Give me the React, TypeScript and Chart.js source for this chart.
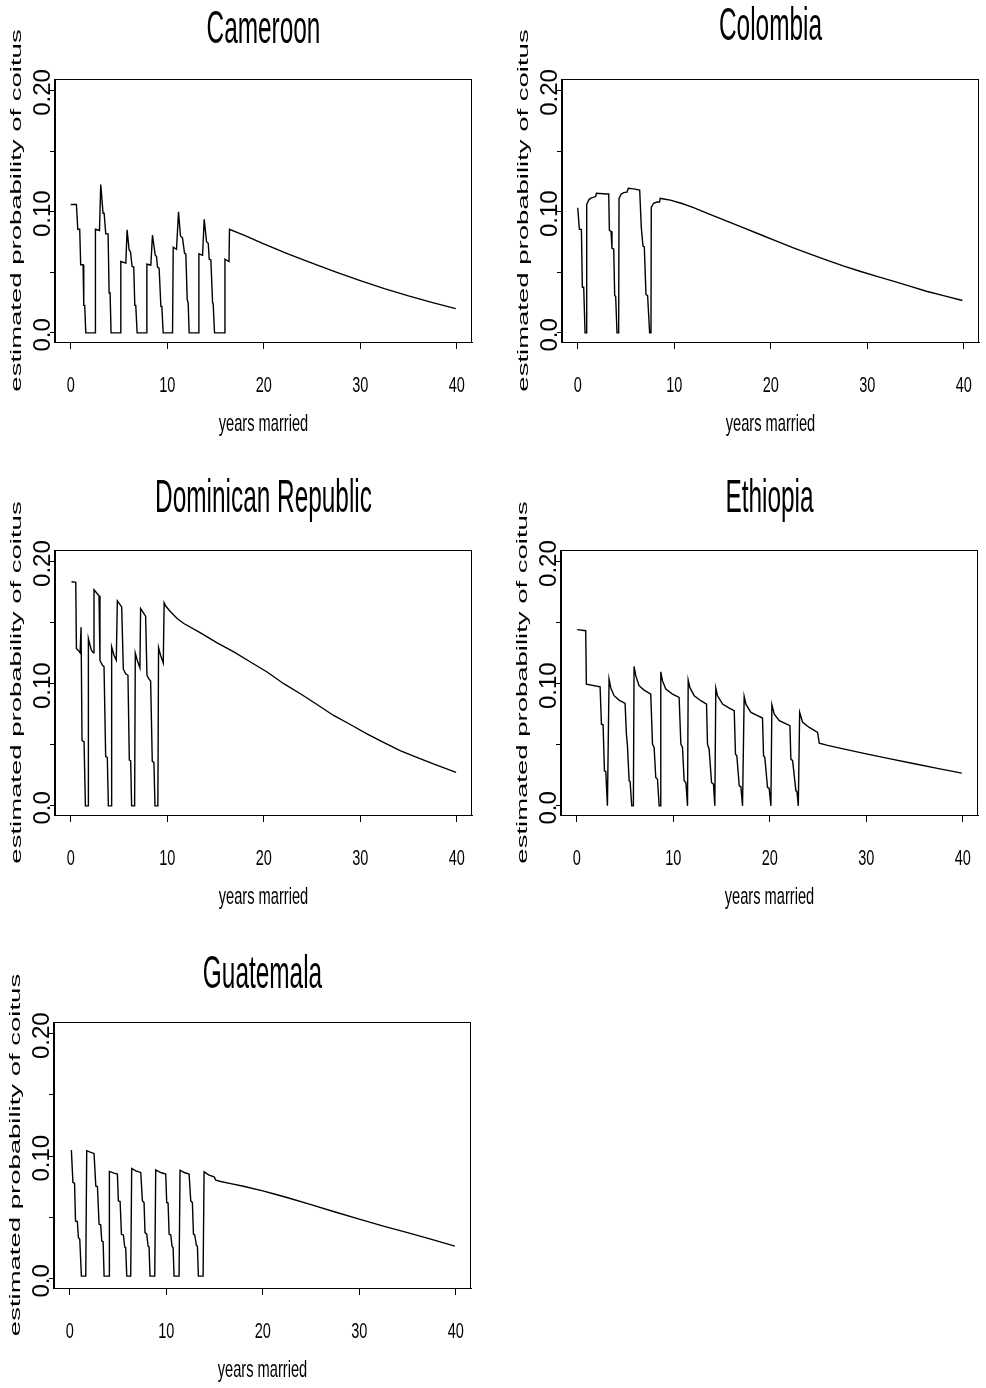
import React, { useEffect, useRef } from "react";
import { Chart, registerables } from "chart.js";

Chart.register(...registerables);

// ---------- axis definitions ----------
const xTickValues = [0, 10, 20, 30, 40];
const xTickLabels = ["0", "10", "20", "30", "40"];
const yTickValues = [0, 0.05, 0.1, 0.15, 0.2];
const yTickLabels = ["0.0", "", "0.10", "", "0.20"];
const xAxisTitle = "years married";
const yAxisTitle = "estimated probability of coitus";

// ---------- Cameroon ----------
const cameroonYears = [
  0, 0.59, 0.73, 0.93, 1.03, 1.28, 1.35, 1.45, 1.56, 2.52,
  2.56, 2.98, 3.11, 3.35, 3.46, 3.63, 3.87, 3.98, 4.08, 4.18, 5.15,
  5.19, 5.71, 5.84, 6.05, 6.19, 6.36, 6.53, 6.64, 6.74, 6.88, 7.85,
  7.89, 8.3, 8.47, 8.75, 8.89, 8.99, 9.16, 9.34, 9.44, 9.58, 10.55,
  10.62, 10.96, 11.17, 11.37, 11.58, 11.79, 11.93, 12.07, 12.17, 12.27, 13.24,
  13.28, 13.66, 13.83, 14.07, 14.25, 14.35, 14.52, 14.7, 14.76, 14.9, 15.9,
  15.98, 16.4, 16.45, 18, 20, 22.5, 25, 27.5, 30, 32.5, 35, 37.5, 39.9,
];
const cameroonProb = [
  0.106, 0.106, 0.0855, 0.0855, 0.0562, 0.0562, 0.0227, 0.0227, 0, 0,
  0.0855, 0.0845, 0.1225, 0.0987, 0.0987, 0.0817, 0.0817, 0.0329, 0.0329, 0, 0,
  0.0589, 0.0576, 0.085, 0.0685, 0.067, 0.0548, 0.0543, 0.0227, 0.0227, 0, 0,
  0.0567, 0.056, 0.0808, 0.0644, 0.063, 0.0543, 0.0535, 0.0219, 0.0219, 0, 0,
  0.0707, 0.069, 0.1, 0.08, 0.0785, 0.0658, 0.065, 0.0274, 0.0247, 0, 0,
  0.0652, 0.064, 0.0938, 0.0753, 0.074, 0.0608, 0.0602, 0.0247, 0.0242, 0, 0,
  0.0608, 0.0589, 0.0855, 0.0805, 0.0735, 0.0652, 0.0575, 0.0502, 0.0432, 0.0365, 0.0305, 0.025, 0.02,
];

// ---------- Colombia ----------
const colombiaYears = [
  0, 0.17, 0.38, 0.48, 0.62, 0.76, 0.9,
  0.93, 1.14, 1.31, 1.66, 1.86, 1.93, 3.04, 3.21, 3.28, 3.45, 3.55, 3.73, 3.83, 3.93, 4.07, 4.24,
  4.28, 4.49, 4.76, 5.1, 5.24, 5.8, 6.42, 6.59, 6.76, 6.9, 7.07, 7.24, 7.45, 7.59,
  7.62, 7.86, 8.21, 8.48, 8.55, 8.9, 9.59, 10.8, 12.0, 13.7, 15.45, 17.2, 18.9, 20.6, 22.35,
  24.1, 25.8, 27.5, 29.24, 31.0, 32.69, 34.4, 36.13, 38.0, 39.86,
];
const colombiaProb = [
  0.1033, 0.0854, 0.0854, 0.0377, 0.0377, 0, 0,
  0.106, 0.1097, 0.111, 0.112, 0.1125, 0.1152, 0.1146, 0.1146, 0.0846, 0.0838, 0.0698, 0.0692, 0.0307, 0.0302, 0, 0,
  0.111, 0.1145, 0.1157, 0.1162, 0.1193, 0.1188, 0.1179, 0.0867, 0.0716, 0.071, 0.0317, 0.0308, 0, 0,
  0.1035, 0.107, 0.108, 0.108, 0.111, 0.1105, 0.1096, 0.1068, 0.1033, 0.0978, 0.0922, 0.0867, 0.0812, 0.0757, 0.0702,
  0.065, 0.06, 0.0553, 0.0509, 0.0467, 0.0427, 0.0386, 0.0344, 0.0305, 0.0267,
];

// ---------- Dominican Republic ----------
const dominicanYears = [
  0.08, 0.52, 0.59, 0.76, 0.97, 1.07, 1.17, 1.38, 1.52, 1.79,
  1.83, 2.0, 2.14, 2.35, 2.41, 2.93, 3.03, 3.28, 3.45, 3.62, 3.79, 3.9, 4.21,
  4.24, 4.48, 4.72, 4.83, 5.28, 5.45, 5.69, 5.93, 6.07, 6.21, 6.31, 6.62,
  6.69, 6.9, 7.17, 7.24, 7.76, 7.9, 8.1, 8.28, 8.45, 8.62, 8.73, 9.03,
  9.1, 9.31, 9.59, 9.68, 9.84, 10.34, 11.03, 11.72, 13.45, 15.17, 16.9, 18.62, 20.35, 22.07,
  23.8, 25.52, 27.24, 28.97, 30.69, 32.41, 34.13, 35.86, 37.58, 39.93,
];
const dominicanProb = [
  0.1835, 0.183, 0.1288, 0.1275, 0.1253, 0.1462, 0.0534, 0.0525, 0, 0,
  0.137, 0.1315, 0.1275, 0.1253, 0.177, 0.172, 0.119, 0.1152, 0.114, 0.0403, 0.0397, 0, 0,
  0.1301, 0.1233, 0.1192, 0.1679, 0.1629, 0.112, 0.1082, 0.1069, 0.0375, 0.037, 0, 0,
  0.125, 0.119, 0.113, 0.1616, 0.1553, 0.1069, 0.104, 0.1022, 0.0364, 0.0356, 0, 0,
  0.1296, 0.1233, 0.1169, 0.1663, 0.1636, 0.1589, 0.1534, 0.1493, 0.1416, 0.1334, 0.126, 0.1178, 0.1096, 0.1,
  0.0918, 0.083, 0.074, 0.0666, 0.0589, 0.052, 0.0452, 0.0397, 0.0343, 0.0274,
];

// ---------- Ethiopia ----------
const ethiopiaYears = [
  0.05, 0.93, 1.0, 2.42, 2.56, 2.73, 2.87, 3.01, 3.18,
  3.35, 3.53, 3.87, 4.39, 5.01, 5.15, 5.25, 5.43, 5.53, 5.7, 5.87,
  5.94, 6.12, 6.46, 6.98, 7.67, 7.85, 8.02, 8.19, 8.37, 8.54, 8.64,
  8.71, 8.88, 9.23, 9.92, 10.61, 10.79, 10.96, 11.13, 11.31, 11.48,
  11.55, 11.72, 12.17, 12.86, 13.45, 13.55, 13.72, 13.97, 14.17, 14.31,
  14.41, 14.59, 15.11, 15.8, 16.32, 16.45, 16.59, 16.84, 17.01, 17.18,
  17.35, 17.53, 18.05, 18.74, 19.25, 19.36, 19.49, 19.77, 19.94, 20.12,
  20.22, 20.47, 20.99, 22.09, 22.19, 22.37, 22.71, 22.82, 22.96,
  23.1, 23.41, 24.1, 24.96, 25.13, 26, 27.5, 30, 32.5, 35, 37.5, 39.9,
];
const ethiopiaProb = [
  0.1443, 0.1434, 0.0997, 0.0975, 0.0669, 0.0664, 0.0287, 0.0281, 0,
  0.1038, 0.0965, 0.0902, 0.0866, 0.0839, 0.0582, 0.05, 0.0205, 0.02, 0, 0,
  0.1142, 0.1066, 0.0984, 0.0948, 0.0915, 0.0505, 0.0478, 0.0232, 0.0218, 0, 0,
  0.1098, 0.1025, 0.0956, 0.0915, 0.0888, 0.0505, 0.0478, 0.0205, 0.0191, 0,
  0.103, 0.097, 0.0901, 0.0861, 0.0833, 0.0505, 0.0464, 0.0191, 0.0178, 0,
  0.0964, 0.0901, 0.0833, 0.08, 0.0779, 0.0423, 0.041, 0.0164, 0.0156, 0,
  0.0896, 0.0833, 0.0765, 0.0738, 0.0719, 0.041, 0.0396, 0.015, 0.0145, 0,
  0.0828, 0.0751, 0.0697, 0.0656, 0.0383, 0.037, 0.0123, 0.0118, 0,
  0.0765, 0.0683, 0.0642, 0.0601, 0.0514, 0.0495, 0.0468, 0.0425, 0.0385, 0.0345, 0.0305, 0.0268,
];

// ---------- Guatemala ----------
const guatemalaYears = [
  0.17, 0.33, 0.5, 0.6, 0.79, 0.9, 1.04, 1.21, 1.66,
  1.76, 2.18, 2.52, 2.7, 2.87, 3.04, 3.21, 3.32, 3.46, 3.56, 4.08,
  4.11, 4.59, 4.94, 5.04, 5.22, 5.36, 5.56, 5.7, 5.8, 5.91, 6.32,
  6.42, 6.84, 7.36, 7.53, 7.7, 7.8, 7.98, 8.12, 8.22, 8.32, 8.81,
  8.91, 9.43, 9.95, 10.05, 10.19, 10.3, 10.47, 10.6, 10.71, 10.81, 11.33,
  11.43, 11.85, 12.37, 12.54, 12.71, 12.82, 12.95, 13.13, 13.23, 13.33, 13.82,
  13.92, 14.44, 14.96, 15.13, 15.65, 16.68, 18, 20, 21.2, 22.5, 25, 27.5, 30, 32.5, 35, 37.5, 39.9,
];
const guatemalaProb = [
  0.105, 0.0786, 0.078, 0.0472, 0.0467, 0.0336, 0.0322, 0.0022, 0.0022,
  0.1045, 0.1031, 0.1023, 0.0758, 0.0753, 0.0445, 0.044, 0.0308, 0.0303, 0.0022, 0.0022,
  0.0876, 0.0862, 0.0854, 0.0636, 0.063, 0.0363, 0.0358, 0.0259, 0.0254, 0.0022, 0.0022,
  0.09, 0.0881, 0.0868, 0.0636, 0.0622, 0.0377, 0.0364, 0.0266, 0.026, 0.0022, 0.0022,
  0.0889, 0.0867, 0.0854, 0.0623, 0.0618, 0.0364, 0.0358, 0.0266, 0.0255, 0.0022, 0.0022,
  0.0886, 0.0867, 0.0854, 0.0636, 0.0623, 0.0364, 0.0358, 0.0273, 0.0266, 0.0022, 0.0022,
  0.0873, 0.0846, 0.0832, 0.0805, 0.0794, 0.0777, 0.0755, 0.0717, 0.0692, 0.0663, 0.0605, 0.0545, 0.0487, 0.043, 0.0377, 0.0322, 0.0267,
];

// ---------- layout ----------
const FONT = '"Liberation Sans", Arial, Helvetica, sans-serif';
const X_MIN = -1.63;
const X_MAX = 41.58;
const Y_MIN = -0.0075;
const Y_MAX = 0.2095;

type Box = { l: number; t: number; r: number; b: number };
type Panel = {
  title: string;
  years: number[];
  prob: number[];
  canvas: { left: number; top: number; width: number; height: number };
  box: Box;
  titleGap: number;
};

const panels: Panel[] = [
  {
    title: "Cameroon",
    years: cameroonYears,
    prob: cameroonProb,
    canvas: { left: 0, top: 0, width: 490, height: 460 },
    box: { l: 55, t: 79, r: 472, b: 342 },
    titleGap: 36,
  },
  {
    title: "Colombia",
    years: colombiaYears,
    prob: colombiaProb,
    canvas: { left: 490, top: 0, width: 496, height: 460 },
    box: { l: 562, t: 79, r: 979, b: 342 },
    titleGap: 39,
  },
  {
    title: "Dominican Republic",
    years: dominicanYears,
    prob: dominicanProb,
    canvas: { left: 0, top: 465, width: 490, height: 470 },
    box: { l: 55, t: 550, r: 472, b: 815 },
    titleGap: 38,
  },
  {
    title: "Ethiopia",
    years: ethiopiaYears,
    prob: ethiopiaProb,
    canvas: { left: 490, top: 465, width: 496, height: 470 },
    box: { l: 561, t: 550, r: 978, b: 815 },
    titleGap: 38,
  },
  {
    title: "Guatemala",
    years: guatemalaYears,
    prob: guatemalaProb,
    canvas: { left: 0, top: 935, width: 490, height: 453 },
    box: { l: 54, t: 1022, r: 471, b: 1288 },
    titleGap: 34,
  },
];

// horizontally condensed text (the original figure is squeezed horizontally)
function hText(ctx: CanvasRenderingContext2D, text: string, x: number, y: number, size: number, sx: number) {
  ctx.save();
  ctx.translate(x, y);
  ctx.scale(sx, 1);
  ctx.font = `${size}px ${FONT}`;
  ctx.textAlign = "center";
  ctx.textBaseline = "alphabetic";
  ctx.fillText(text, 0, 0);
  ctx.restore();
}

// vertical text reading bottom-to-top, thickness squeezed by sy
function vText(ctx: CanvasRenderingContext2D, text: string, x: number, y: number, size: number, sy: number) {
  ctx.save();
  ctx.translate(x, y);
  ctx.rotate(-Math.PI / 2);
  ctx.scale(1, sy);
  ctx.font = `${size}px ${FONT}`;
  ctx.textAlign = "center";
  ctx.textBaseline = "alphabetic";
  ctx.fillText(text, 0, 0);
  ctx.restore();
}

const rTextPlugin = {
  id: "rText",
  afterDraw(chart: any, _args: any, opts: any) {
    const ctx: CanvasRenderingContext2D = chart.ctx;
    const ca = chart.chartArea;
    const xs = chart.scales.x;
    const ys = chart.scales.y;
    ctx.save();
    ctx.strokeStyle = "#000";
    ctx.lineWidth = 1;
    ctx.strokeRect(Math.round(ca.left) - 0.5, Math.round(ca.top) + 0.5, Math.round(ca.right - ca.left), Math.round(ca.bottom - ca.top));
    ctx.fillStyle = "#000";
    const cx = (ca.left + ca.right) / 2;
    hText(ctx, opts.title, cx, ca.top - opts.titleGap, 46, 0.53);
    xTickValues.forEach((v, i) => {
      hText(ctx, xTickLabels[i], xs.getPixelForValue(v), ca.bottom + 50, 22, 0.66);
    });
    hText(ctx, xAxisTitle, cx, ca.bottom + 89, 24, 0.61);
    yTickValues.forEach((v, i) => {
      if (yTickLabels[i]) vText(ctx, yTickLabels[i], ca.left - 5, ys.getPixelForValue(v) + 2, 24, 1);
    });
    vText(ctx, yAxisTitle, ca.left - 34, (ca.top + ca.bottom) / 2, 27.5, 0.52);
    ctx.restore();
  },
};

function PanelChart({ panel }: { panel: Panel }) {
  const ref = useRef<HTMLCanvasElement | null>(null);
  useEffect(() => {
    const canvas = ref.current;
    if (!canvas) return;
    const { canvas: cv, box } = panel;
    const padTop = box.t - cv.top;
    const padRight = cv.left + cv.width - box.r;
    const yAxisWidth = box.l - cv.left;
    const xAxisHeight = cv.top + cv.height - box.b;
    const chart = new Chart(canvas, {
      type: "line",
      data: {
        datasets: [
          {
            data: panel.years.map((x, i) => ({ x, y: panel.prob[i] })),
            borderColor: "#000",
            borderWidth: 1.4,
            pointRadius: 0,
            tension: 0,
            fill: false,
          },
        ],
      },
      options: {
        animation: false,
        responsive: false,
        devicePixelRatio: 1,
        events: [],
        layout: { padding: { left: 0, top: padTop, right: padRight, bottom: 0 } },
        plugins: {
          legend: { display: false },
          tooltip: { enabled: false },
          title: { display: false },
          rText: { title: panel.title, titleGap: panel.titleGap },
        } as any,
        scales: {
          x: {
            type: "linear",
            min: X_MIN,
            max: X_MAX,
            afterBuildTicks: (s: any) => {
              s.ticks = xTickValues.map((v) => ({ value: v }));
            },
            afterFit: (s: any) => {
              s.height = xAxisHeight;
            },
            ticks: { display: false },
            grid: { display: true, drawOnChartArea: false, drawTicks: true, tickLength: 7, color: "#000", lineWidth: 1 },
            border: { display: true, color: "#000", width: 1 },
          },
          y: {
            type: "linear",
            min: Y_MIN,
            max: Y_MAX,
            afterBuildTicks: (s: any) => {
              s.ticks = yTickValues.map((v) => ({ value: v }));
            },
            afterFit: (s: any) => {
              s.width = yAxisWidth;
            },
            ticks: { display: false },
            grid: { display: true, drawOnChartArea: false, drawTicks: true, tickLength: 5, color: "#000", lineWidth: 1 },
            border: { display: true, color: "#000", width: 1 },
          },
        },
      } as any,
      plugins: [rTextPlugin as any],
    });
    return () => chart.destroy();
  }, [panel]);
  return (
    <canvas
      ref={ref}
      width={panel.canvas.width}
      height={panel.canvas.height}
      style={{
        position: "absolute",
        left: panel.canvas.left,
        top: panel.canvas.top,
        width: panel.canvas.width,
        height: panel.canvas.height,
      }}
    />
  );
}

export default function App() {
  return (
    <div style={{ position: "absolute", left: 0, top: 0, width: 986, height: 1388, background: "#fff" }}>
      {panels.map((p) => (
        <PanelChart key={p.title} panel={p} />
      ))}
    </div>
  );
}
